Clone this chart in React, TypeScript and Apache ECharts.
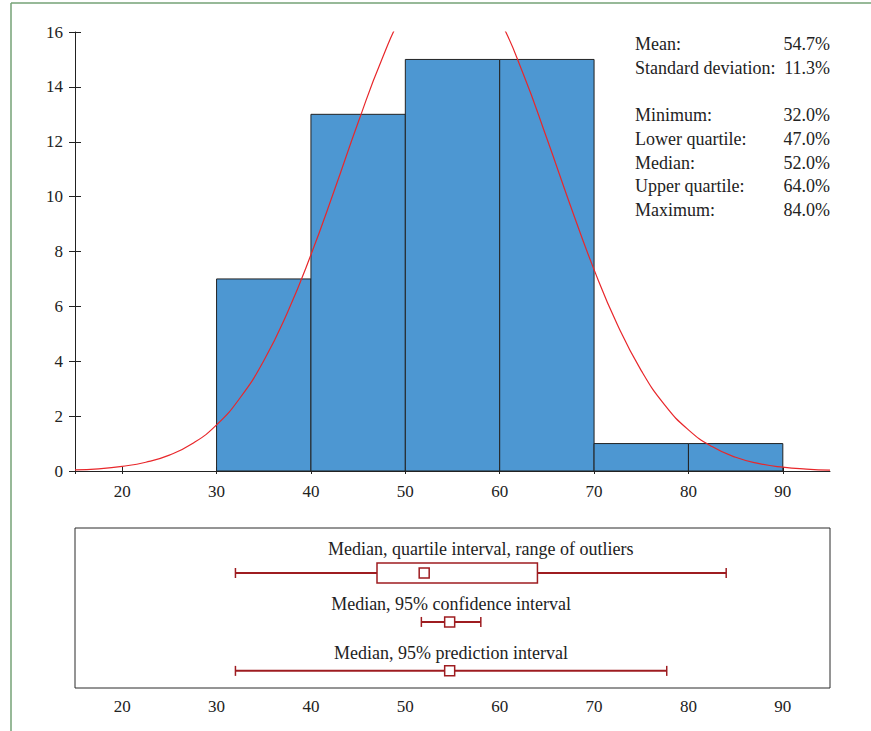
import React, { useEffect, useRef } from "react";
import * as echarts from "echarts";

// Histogram bins
const binStart = [30, 40, 50, 60, 70, 80];
const binEnd = [40, 50, 60, 70, 80, 90];
const binCount = [7, 13, 15, 15, 1, 1];

// Fitted normal curve
const curveX = [15, 17.5, 20, 22.5, 25, 27.5, 30, 32.5, 35, 37.5, 40, 42.5, 45, 47.5, 50, 52.5, 55, 57.5, 60, 62.5, 65, 67.5, 70, 72.5, 75, 77.5, 80, 82.5, 85, 87.5, 90, 92.5, 95];
const curveY = [0.04, 0.08, 0.17, 0.32, 0.58, 1.01, 1.68, 2.67, 4.02, 5.77, 7.88, 10.25, 12.7, 14.99, 16.84, 18.01, 18.35, 17.81, 16.45, 14.47, 12.12, 9.67, 7.34, 5.31, 3.66, 2.4, 1.5, 0.89, 0.5, 0.27, 0.14, 0.07, 0.03];

const xTickValues = [15, 20, 30, 40, 50, 60, 70, 80, 90];
const xLabelValues = [20, 30, 40, 50, 60, 70, 80, 90];

// Statistics block
const statLabels = ["Mean:", "Standard deviation:", "", "Minimum:", "Lower quartile:", "Median:", "Upper quartile:", "Maximum:"];
const statValues = ["54.7%", "11.3%", "", "32.0%", "47.0%", "52.0%", "64.0%", "84.0%"];

// Interval panel
const intervalTitles = [
  "Median, quartile interval, range of outliers",
  "Median, 95% confidence interval",
  "Median, 95% prediction interval",
];
const intervalLow = [32.0, 51.7, 32.0];
const intervalHigh = [84.0, 58.0, 77.7];
const boxLow = [47.0, NaN, NaN];
const boxHigh = [64.0, NaN, NaN];
const markerValue = [52.0, 54.7, 54.7];

const FONT = "'Liberation Serif', 'DejaVu Serif', serif";
const DARK = "#222";
const RED = "#9e1c20";

export default function App() {
  const ref = useRef<HTMLDivElement>(null);
  useEffect(() => {
    document.body.style.margin = "0";
    const chart = echarts.init(ref.current!, null, { renderer: "svg" });

    const histData = binStart.map((s, i) => [s, binEnd[i], binCount[i]]);
    const curveData = curveX.map((x, i) => [x, curveY[i]]);
    const intervalData = intervalTitles.map((_, i) => [i, intervalLow[i], intervalHigh[i], boxLow[i], boxHigh[i], markerValue[i]]);

    const statGraphics: any[] = [];
    statLabels.forEach((l, i) => {
      if (!l) return;
      const y = 44 + i * 23.7;
      statGraphics.push({ type: "text", x: 635, y, style: { text: l, font: `18px ${FONT}`, fill: DARK, align: "left", verticalAlign: "middle" } });
      statGraphics.push({ type: "text", x: 830, y, style: { text: statValues[i], font: `18px ${FONT}`, fill: DARK, align: "right", verticalAlign: "middle" } });
    });

    chart.setOption({
      animation: false,
      textStyle: { fontFamily: FONT, fontSize: 17, color: DARK },
      grid: [
        { left: 75, top: 32, width: 755, height: 439 },
        { left: 75, top: 528, width: 755, height: 160, show: true, borderColor: "#2a2a2a", borderWidth: 1, backgroundColor: "transparent" },
      ],
      xAxis: [
        {
          gridIndex: 0, type: "value", min: 15, max: 95, position: "bottom",
          axisLine: { show: true, lineStyle: { color: DARK, width: 1 } },
          axisTick: { show: true, inside: false, length: 3, customValues: xTickValues, lineStyle: { color: DARK } },
          axisLabel: { show: true, customValues: xLabelValues, margin: 12, fontFamily: FONT, fontSize: 17, color: DARK },
          splitLine: { show: false },
        },
        {
          gridIndex: 0, type: "value", min: 15, max: 95, position: "bottom", offset: 0,
          axisLine: { show: false },
          axisTick: { show: true, inside: true, length: 4, customValues: xTickValues, lineStyle: { color: DARK } },
          axisLabel: { show: false },
          splitLine: { show: false },
        },
        {
          gridIndex: 1, type: "value", min: 15, max: 95, position: "bottom",
          axisLine: { show: false },
          axisTick: { show: false },
          axisLabel: { show: true, customValues: xLabelValues, margin: 10, fontFamily: FONT, fontSize: 17, color: DARK },
          splitLine: { show: false },
        },
      ],
      yAxis: [
        {
          gridIndex: 0, type: "value", min: 0, max: 16, interval: 2, position: "left",
          axisLine: { show: true, lineStyle: { color: DARK, width: 1 } },
          axisTick: { show: true, inside: false, length: 6, lineStyle: { color: DARK } },
          axisLabel: { show: true, margin: 12, fontFamily: FONT, fontSize: 17, color: DARK },
          splitLine: { show: false },
        },
        {
          gridIndex: 0, type: "value", min: 0, max: 16, interval: 2, position: "left", offset: 0,
          axisLine: { show: false },
          axisTick: { show: true, inside: true, length: 6, lineStyle: { color: DARK } },
          axisLabel: { show: false },
          splitLine: { show: false },
        },
        {
          gridIndex: 1, type: "value", min: -0.92, max: 2.35, inverse: true, show: false,
          splitLine: { show: false },
        },
      ],
      series: [
        {
          type: "custom", xAxisIndex: 0, yAxisIndex: 0, z: 2,
          data: histData,
          renderItem: (params: any, api: any) => {
            const p0 = api.coord([api.value(0), api.value(2)]);
            const p1 = api.coord([api.value(1), 0]);
            return {
              type: "rect",
              shape: { x: p0[0], y: p0[1], width: p1[0] - p0[0], height: p1[1] - p0[1] },
              style: { fill: "#4d97d2", stroke: DARK, lineWidth: 1 },
            };
          },
        },
        {
          type: "line", xAxisIndex: 0, yAxisIndex: 0, z: 4,
          data: curveData, smooth: true, showSymbol: false, clip: true,
          lineStyle: { color: "#e8272b", width: 1.2 },
        },
        {
          type: "custom", xAxisIndex: 2, yAxisIndex: 2, z: 3,
          data: intervalData,
          renderItem: (params: any, api: any) => {
            const i = params.dataIndex;
            const row = api.value(0);
            const low = api.value(1), high = api.value(2);
            const bl = api.value(3), bh = api.value(4), mk = api.value(5);
            const pL = api.coord([low, row]);
            const pH = api.coord([high, row]);
            const pM = api.coord([mk, row]);
            const y = pL[1];
            const hasBox = !isNaN(bl) && !isNaN(bh);
            const children: any[] = [];
            const lineStyle = { stroke: RED, lineWidth: 2 };
            if (hasBox) {
              const b0 = api.coord([bl, row]);
              const b1 = api.coord([bh, row]);
              children.push({ type: "line", shape: { x1: pL[0], y1: y, x2: b0[0], y2: y }, style: lineStyle });
              children.push({ type: "line", shape: { x1: b1[0], y1: y, x2: pH[0], y2: y }, style: lineStyle });
              children.push({ type: "rect", shape: { x: b0[0], y: y - 10, width: b1[0] - b0[0], height: 20 }, style: { fill: "#fff", stroke: RED, lineWidth: 1.5 } });
            } else {
              children.push({ type: "line", shape: { x1: pL[0], y1: y, x2: pH[0], y2: y }, style: lineStyle });
            }
            children.push({ type: "line", shape: { x1: pL[0], y1: y - 5, x2: pL[0], y2: y + 5 }, style: { stroke: RED, lineWidth: 1.5 } });
            children.push({ type: "line", shape: { x1: pH[0], y1: y - 5, x2: pH[0], y2: y + 5 }, style: { stroke: RED, lineWidth: 1.5 } });
            children.push({ type: "rect", shape: { x: pM[0] - 5, y: y - 5, width: 10, height: 10 }, style: { fill: "#fff", stroke: RED, lineWidth: 1.5 } });
            const mid = (pL[0] + pH[0]) / 2;
            children.push({
              type: "text", x: mid, y: y - (hasBox ? 24 : 18),
              style: { text: intervalTitles[i], font: `18px ${FONT}`, fill: DARK, align: "center", verticalAlign: "middle" },
            });
            return { type: "group", children };
          },
        },
      ],
      graphic: [
        { type: "line", shape: { x1: 11, y1: 3, x2: 11, y2: 731 }, style: { stroke: "#74a276", lineWidth: 1.5 } },
        { type: "line", shape: { x1: 11, y1: 3, x2: 871, y2: 3 }, style: { stroke: "#74a276", lineWidth: 1.5 } },
        ...statGraphics,
      ],
    });
    return () => chart.dispose();
  }, []);
  return <div ref={ref} style={{ width: 871, height: 731 }} />;
}
